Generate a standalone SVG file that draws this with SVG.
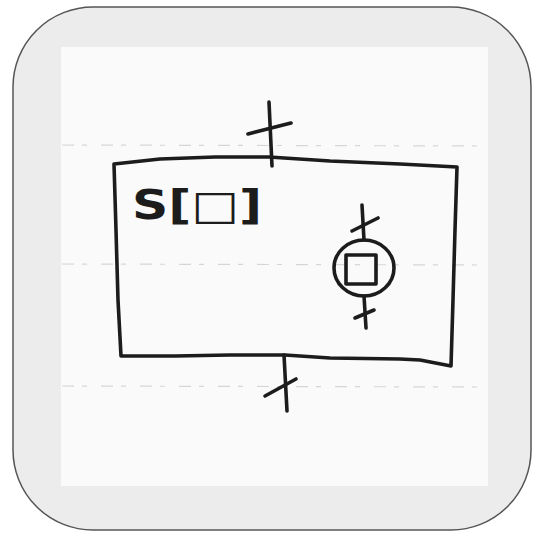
<svg xmlns="http://www.w3.org/2000/svg" width="533" height="542" viewBox="0 0 533 542">
<defs>
<style>
.ink{fill:none;stroke:#1c1c1c;stroke-width:3.6;stroke-linecap:round;stroke-linejoin:round}
.rule{fill:none;stroke:#d6d6d6;stroke-width:1.2;stroke-dasharray:12 8 5 14}
.lbl{font-family:"DejaVu Sans","Liberation Sans",sans-serif;font-weight:bold;fill:#1c1c1c}
</style>
</defs>
<rect x="13" y="7" width="518" height="523" rx="80" ry="80" fill="#ececec" stroke="#555" stroke-width="1.5"/>
<rect x="61" y="47" width="427" height="439" fill="#fafafa"/>
<g id="rules">
<line class="rule" x1="62" y1="145" x2="486" y2="146"/>
<line class="rule" x1="62" y1="264" x2="486" y2="265"/>
<line class="rule" x1="62" y1="386" x2="486" y2="387"/>
</g>
<g id="block">
<path class="ink" d="M114,164 L160,159 L215,157 L269,157 L330,161 L400,164 L457,167 L455,230 L453,300 L451,366 L420,360 L400,359 L330,358 L285,355 L230,355 L175,356 L121,356 L118,300 L116,230 Z"/>
<text class="lbl" x="132" y="219" font-size="40" textLength="130" lengthAdjust="spacingAndGlyphs">S[□]</text>
</g>
<g id="inner-node">
<ellipse class="ink" cx="364" cy="268" rx="30" ry="28"/>
<rect class="ink" x="346" y="255" width="30" height="29"/>
</g>
<g id="connectors">
<path class="ink" d="M269,102 L272,166"/>
<path class="ink" d="M248,134 L291,123"/>
<path class="ink" d="M284,355 L287,411"/>
<path class="ink" d="M265,396 L296,379"/>
<path class="ink" d="M362,205 L364,240"/>
<path class="ink" d="M352,231 L378,218"/>
<path class="ink" d="M364,296 L366,328"/>
<path class="ink" d="M355,318 L374,310"/>
</g>
</svg>
